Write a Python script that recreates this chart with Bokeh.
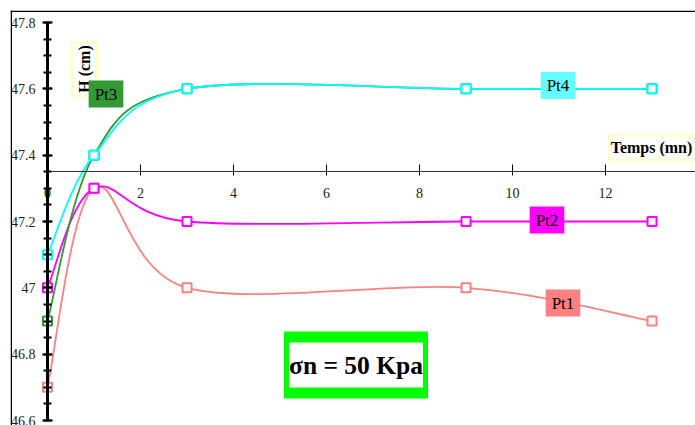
import math
from bokeh.plotting import figure
from bokeh.models import (Range1d, LinearAxis, SingleIntervalTicker, CustomJSTickFormatter,
                          Label, Span, ColumnDataSource)
from bokeh.embed import file_html
from bokeh.resources import INLINE

# ---- data ----
time_mn = [0, 1, 3, 9, 13]
pt1 = [46.7, 47.3, 47.0, 47.0, 46.9]
pt2 = [47.0, 47.3, 47.2, 47.2, 47.2]
pt3 = [46.9, 47.4, 47.6, 47.6, 47.6]
pt4 = [47.1, 47.4, 47.6, 47.6, 47.6]
series = [("Pt1", pt1), ("Pt2", pt2), ("Pt3", pt3), ("Pt4", pt4)]
line_colors = ["#FF8080", "#FF00FF", "#339933", "#00FFFF"]
label_fills = ["#FF8080", "#FF00FF", "#339933", "#66FFFF"]
x_title = "Temps (mn)"
y_title = "H (cm)"
note_text = "σn = 50 Kpa"
x_cross = 47.35
y_min, y_max = 46.6, 47.8

SERIF = "Liberation Serif"

# ---- geometry (pixels) ----
W, H = 695, 425
BL, BT = 10, 10
FW, FH = W - BL, H - BT
AX0 = 47.0        # page x of time 0
AYTOP = 22.0      # page y of y_max
PX_X = 46.5
PX_Y = 331.67
x_start = -(AX0 - BL) / PX_X
x_end = x_start + FW / PX_X
y_end = y_max + (AYTOP - BT) / PX_Y
y_start = y_end - FH / PX_Y


def dx(px):
    return (px - AX0) / PX_X


def dy(py):
    return y_max - (py - AYTOP) / PX_Y


# label centres in page pixels (layout only)
label_px = [(562.5, 302.5), (546.5, 219.5), (105.5, 93.5), (557.5, 85.0)]

p = figure(width=W, height=H, x_range=Range1d(x_start, x_end), y_range=Range1d(y_start, y_end),
           output_backend="svg", toolbar_location=None, x_axis_type=None, y_axis_type=None,
           min_border_left=BL, min_border_top=BT, min_border_right=0, min_border_bottom=0,
           title=None)
p.outline_line_color = None
p.background_fill_color = "white"
p.border_fill_color = "white"

# outer border (left & top)
p.add_layout(Span(location=dx(10.75), dimension="height", line_color="black", line_width=1.5))
p.add_layout(Span(location=dy(10.75), dimension="width", line_color="black", line_width=1.5))

# axes
yaxis = LinearAxis(ticker=SingleIntervalTicker(interval=0.2, num_minor_ticks=4),
                   fixed_location=0, bounds=(y_min - 0.0005, y_max + 0.0005))
yaxis.formatter = CustomJSTickFormatter(code="return (Math.round(tick*10)/10).toString();")
yaxis.axis_line_width = 3
yaxis.axis_line_color = "black"
yaxis.major_tick_in = 5
yaxis.major_tick_out = 5
yaxis.minor_tick_in = 4
yaxis.minor_tick_out = 4
yaxis.major_tick_line_width = 2
yaxis.minor_tick_line_width = 2
yaxis.major_label_standoff = 7
yaxis.major_label_text_font = SERIF
yaxis.major_label_text_font_size = "14px"
yaxis.major_label_text_color = "#222222"
p.add_layout(yaxis, "left")

xaxis = LinearAxis(ticker=SingleIntervalTicker(interval=2, num_minor_ticks=0),
                   fixed_location=x_cross, bounds=(0, 14))
xaxis.axis_line_width = 1.2
xaxis.axis_line_color = "#333333"
xaxis.major_tick_in = 7
xaxis.major_tick_out = 4
xaxis.minor_tick_line_color = None
xaxis.major_label_standoff = 12
xaxis.major_label_text_font = SERIF
xaxis.major_label_text_font_size = "14px"
xaxis.major_label_text_color = "#222222"
p.add_layout(xaxis, "below")
p.grid.visible = False


def smooth_segments(xs, ys, t=1.0 / 6.0):
    n = len(xs)
    d = dict(x0=[], y0=[], x1=[], y1=[], cx0=[], cy0=[], cx1=[], cy1=[])
    for i in range(n - 1):
        a = max(i - 1, 0)
        b = min(i + 2, n - 1)
        d["x0"].append(xs[i]); d["y0"].append(ys[i])
        d["x1"].append(xs[i + 1]); d["y1"].append(ys[i + 1])
        d["cx0"].append(xs[i] + (xs[i + 1] - xs[a]) * t)
        d["cy0"].append(ys[i] + (ys[i + 1] - ys[a]) * t)
        d["cx1"].append(xs[i + 1] - (xs[b] - xs[i]) * t)
        d["cy1"].append(ys[i + 1] - (ys[b] - ys[i]) * t)
    return d


for (name, ys), col in zip(series, line_colors):
    seg = ColumnDataSource(smooth_segments(time_mn, ys))
    p.bezier(x0="x0", y0="y0", x1="x1", y1="y1", cx0="cx0", cy0="cy0", cx1="cx1", cy1="cy1",
             source=seg, line_color=col, line_width=1.8)
    p.scatter(time_mn, ys, marker="square", size=9, fill_color="white", line_color=col, line_width=2)

# axis titles
p.add_layout(Label(x=dx(651), y=dy(147), text=x_title, text_font=SERIF, text_font_size="16px",
                   text_font_style="bold", text_color="black", text_align="center",
                   text_baseline="middle", background_fill_color="white",
                   border_line_color="#FFFFCC", border_line_width=3, padding=(2, 4)))
p.add_layout(Label(x=dx(84), y=dy(68.5), text=y_title, text_font=SERIF, text_font_size="16px",
                   text_font_style="bold", text_color="black", text_align="center",
                   text_baseline="middle", angle=math.pi / 2, background_fill_color="white",
                   border_line_color="#FFFFCC", border_line_width=3, padding=(3, 4)))

for (name, _), fill, (lx, ly) in zip(series, label_fills, label_px):
    p.add_layout(Label(x=dx(lx), y=dy(ly), text=name, text_font=SERIF, text_font_size="17px",
                       text_color="black", text_align="center", text_baseline="middle",
                       background_fill_color=fill, padding=(6, 4)))

# note box: green frame with white inner box
nx, ny = dx(355.5), dy(364.5)
p.add_layout(Label(x=nx, y=ny, text=note_text, text_font=SERIF, text_font_size="25.5px",
                   text_font_style="bold", text_color="#00FF00", text_align="center",
                   text_baseline="middle", background_fill_color="#00FF00", padding=(5, 19)))
p.add_layout(Label(x=nx, y=ny, text=note_text, text_font=SERIF, text_font_size="25.5px",
                   text_font_style="bold", text_color="black", text_align="center",
                   text_baseline="middle", background_fill_color="white", padding=(0, 8)))

open("out.html", "w").write(file_html(p, INLINE))
